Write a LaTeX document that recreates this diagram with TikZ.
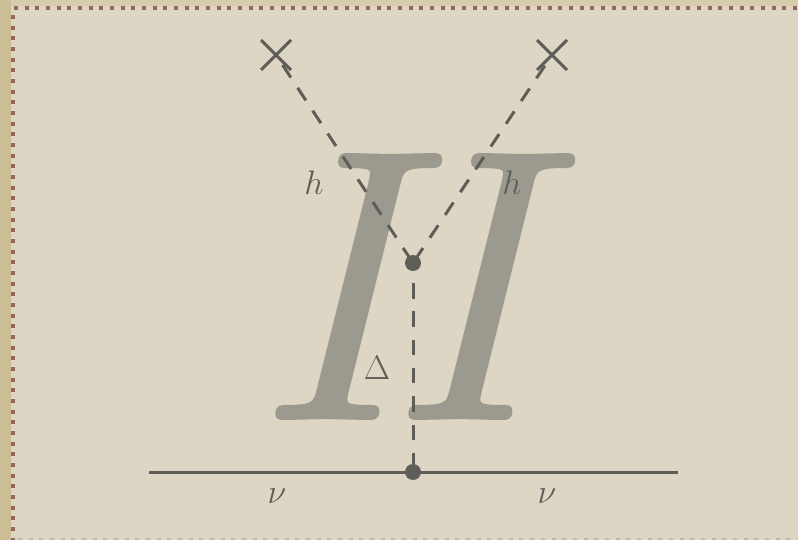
\RequirePackage{fix-cm}
\documentclass[tikz,border=0pt]{standalone}
\usepackage{fontspec}
\newfontface\bigIface{lmroman12-italic.otf}[FakeBold=1]
\usetikzlibrary{shapes.misc}
\definecolor{bgbeige}{RGB}{221,214,196}
\definecolor{bgstrip}{RGB}{203,190,150}
\definecolor{bgtop}{RGB}{214,204,172}
\definecolor{dotbrown}{RGB}{152,102,84}
\definecolor{faintline}{RGB}{196,186,164}
\definecolor{bigletter}{RGB}{156,153,142}
\definecolor{ink}{RGB}{95,93,88}
\tikzset{
  bigI/.style={font=\bigIface\fontsize{385}{385}\selectfont, text=bigletter, inner sep=0pt, anchor=base},
  lbl/.style={font=\fontsize{34}{34}\selectfont, text=ink, inner sep=0pt},
  vtx/.style={circle, fill=ink, inner sep=0pt, minimum size=16pt},
  xmark/.style={cross out, draw=ink, line width=3pt, minimum size=27pt, inner sep=0pt},
  scalar/.style={draw=ink, line width=3pt, dash pattern=on 15pt off 12.4pt, dash phase=24.4pt},
  scalarv/.style={draw=ink, line width=3pt, dash pattern=on 15.5pt off 12.8pt, dash phase=8.3pt},
  fermion/.style={draw=ink, line width=3pt},
  dotborder/.style={draw=dotbrown, line width=4pt, dash pattern=on 4pt off 6.67pt},
}
\begin{document}
\begin{tikzpicture}[x=1pt,y=-1pt]
\useasboundingbox (0,0) rectangle (798,540);
% background
\fill[bgbeige] (0,0) rectangle (798,540);
\fill[bgtop] (0,0) rectangle (798,6);
\fill[bgstrip] (0,0) rectangle (11,540);
\draw[dotborder] (14,8) -- (798,8);
\draw[dotborder] (13,15) -- (13,540);
\draw[draw=faintline, line width=3pt, dash pattern=on 4pt off 6.67pt] (18,539) -- (798,539);
% big letters
\node[bigI] (I1) at (326,418) {I};
\node[bigI] (I2) at (459,418) {I};
% diagram
\node[xmark] (c1) at (276,55) {};
\node[xmark] (c2) at (552,55) {};
\node[vtx] (v1) at (413,263) {};
\node[vtx] (v2) at (413,472) {};
\coordinate (fl) at (149,472);
\coordinate (fr) at (678,472);
\draw[scalar] (v1.center) -- (c1.center);
\draw[scalar] (v1.center) -- (c2.center);
\draw[scalarv] (v1.center) -- (v2.center);
\draw[fermion] (fl) -- (v2.center) -- (fr);
\node[lbl] (h1) at (314,183) {$h$};
\node[lbl] (h2) at (512,183) {$h$};
\node[lbl] (D) at (377,368) {$\Delta$};
\node[lbl] (n1) at (277,496) {$\nu$};
\node[lbl] (n2) at (547,496) {$\nu$};
\end{tikzpicture}
\end{document}
